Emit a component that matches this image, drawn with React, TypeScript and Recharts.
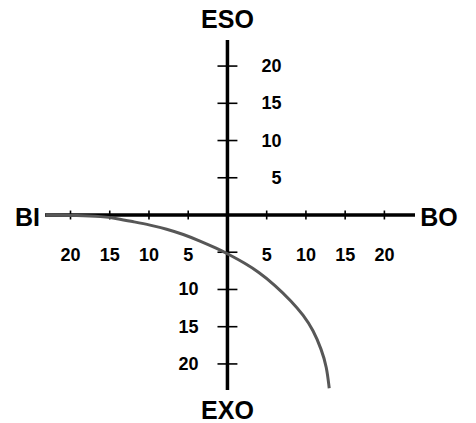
import React from 'react'
import { LineChart, Line, XAxis, YAxis, ReferenceLine, ReferenceDot } from 'recharts'

// quadrant curve, read point by point
const curveX = [-23.2, -19, -16, -14.1, -12.0, -9.87, -7.75, -5.63, -3.5, -1.38, 0.32, 2.23, 3.92, 6.05, 8.18, 9.66, 10.93, 12.0, 12.64, 12.97]
const curveY = [0, -0.05, -0.2, -0.46, -0.9, -1.34, -1.88, -2.59, -3.49, -4.47, -5.37, -6.48, -7.61, -9.4, -11.6, -13.42, -15.44, -18.12, -20.36, -23.26]

const xTicks = [-20, -15, -10, -5, 5, 10, 15, 20]
const yTicks = [-20, -15, -10, -5, 5, 10, 15, 20]
const xTickLabels = [-20, -15, -10, -5, 5, 10, 15, 20]
const yTickLabels = [20, 15, 10, 5, -10, -15, -20]

const X_DOMAIN = [-23.25, 23.9]
const Y_DOMAIN = [-23.5, 23.5]

const data = curveX.map((x, i) => ({ x, y: curveY[i] }))

const FONT = '"Liberation Sans", Arial, sans-serif'

const textAt = (dx: number, dy: number, text: string, size: number, anchor = 'middle') =>
  (props: any) => (
    <text
      x={props.cx + dx}
      y={props.cy + dy}
      textAnchor={anchor}
      dominantBaseline="central"
      fontFamily={FONT}
      fontWeight="bold"
      fontSize={size}
      fill="#000"
    >
      {text}
    </text>
  )

export default function App () {
  return (
    <div style={{ position: 'absolute', left: 0, top: 0, background: '#fff' }}>
      <LineChart
        width={476}
        height={423}
        data={data}
        margin={{ top: 40, right: 61, bottom: 33, left: 45 }}
      >
        <XAxis type="number" dataKey="x" domain={X_DOMAIN} allowDataOverflow hide />
        <YAxis type="number" dataKey="y" domain={Y_DOMAIN} allowDataOverflow hide />

        {/* main cross */}
        <ReferenceLine y={0} stroke="#000" strokeWidth={3.5} />
        <ReferenceLine x={0} stroke="#000" strokeWidth={3.5} />

        {xTicks.map(v => (
          <ReferenceLine
            key={'xt' + v}
            segment={[{ x: v, y: -0.6 }, { x: v, y: 0.6 }]}
            stroke="#000"
            strokeWidth={1.6}
          />
        ))}
        {yTicks.map(v => (
          <ReferenceLine
            key={'yt' + v}
            segment={[{ x: -1.27, y: v }, { x: 1.27, y: v }]}
            stroke="#000"
            strokeWidth={1.6}
          />
        ))}

        {xTickLabels.map(v => (
          <ReferenceDot
            key={'xl' + v}
            x={v}
            y={0}
            r={0}
            shape={textAt(0, 40, String(Math.abs(v)), 18)}
          />
        ))}
        {yTickLabels.map(v => (
          <ReferenceDot
            key={'yl' + v}
            x={0}
            y={v}
            r={0}
            shape={v > 0
              ? textAt(54, 0, String(v), 18, 'end')
              : textAt(-29, 0, String(-v), 18, 'end')}
          />
        ))}

        <ReferenceDot x={0} y={Y_DOMAIN[1]} r={0} shape={textAt(0, -21, 'ESO', 25)} />
        <ReferenceDot x={0} y={Y_DOMAIN[0]} r={0} shape={textAt(0, 20, 'EXO', 25)} />
        <ReferenceDot x={X_DOMAIN[0]} y={0} r={0} shape={textAt(-17.5, 2, 'BI', 25)} />
        <ReferenceDot x={X_DOMAIN[1]} y={0} r={0} shape={textAt(24, 2, 'BO', 25)} />

        {/* basis smooths out small reading jitter between points */}
        <Line
          type="basis"
          dataKey="y"
          stroke="#575757"
          strokeWidth={3}
          dot={false}
          isAnimationActive={false}
        />
      </LineChart>
    </div>
  )
}
